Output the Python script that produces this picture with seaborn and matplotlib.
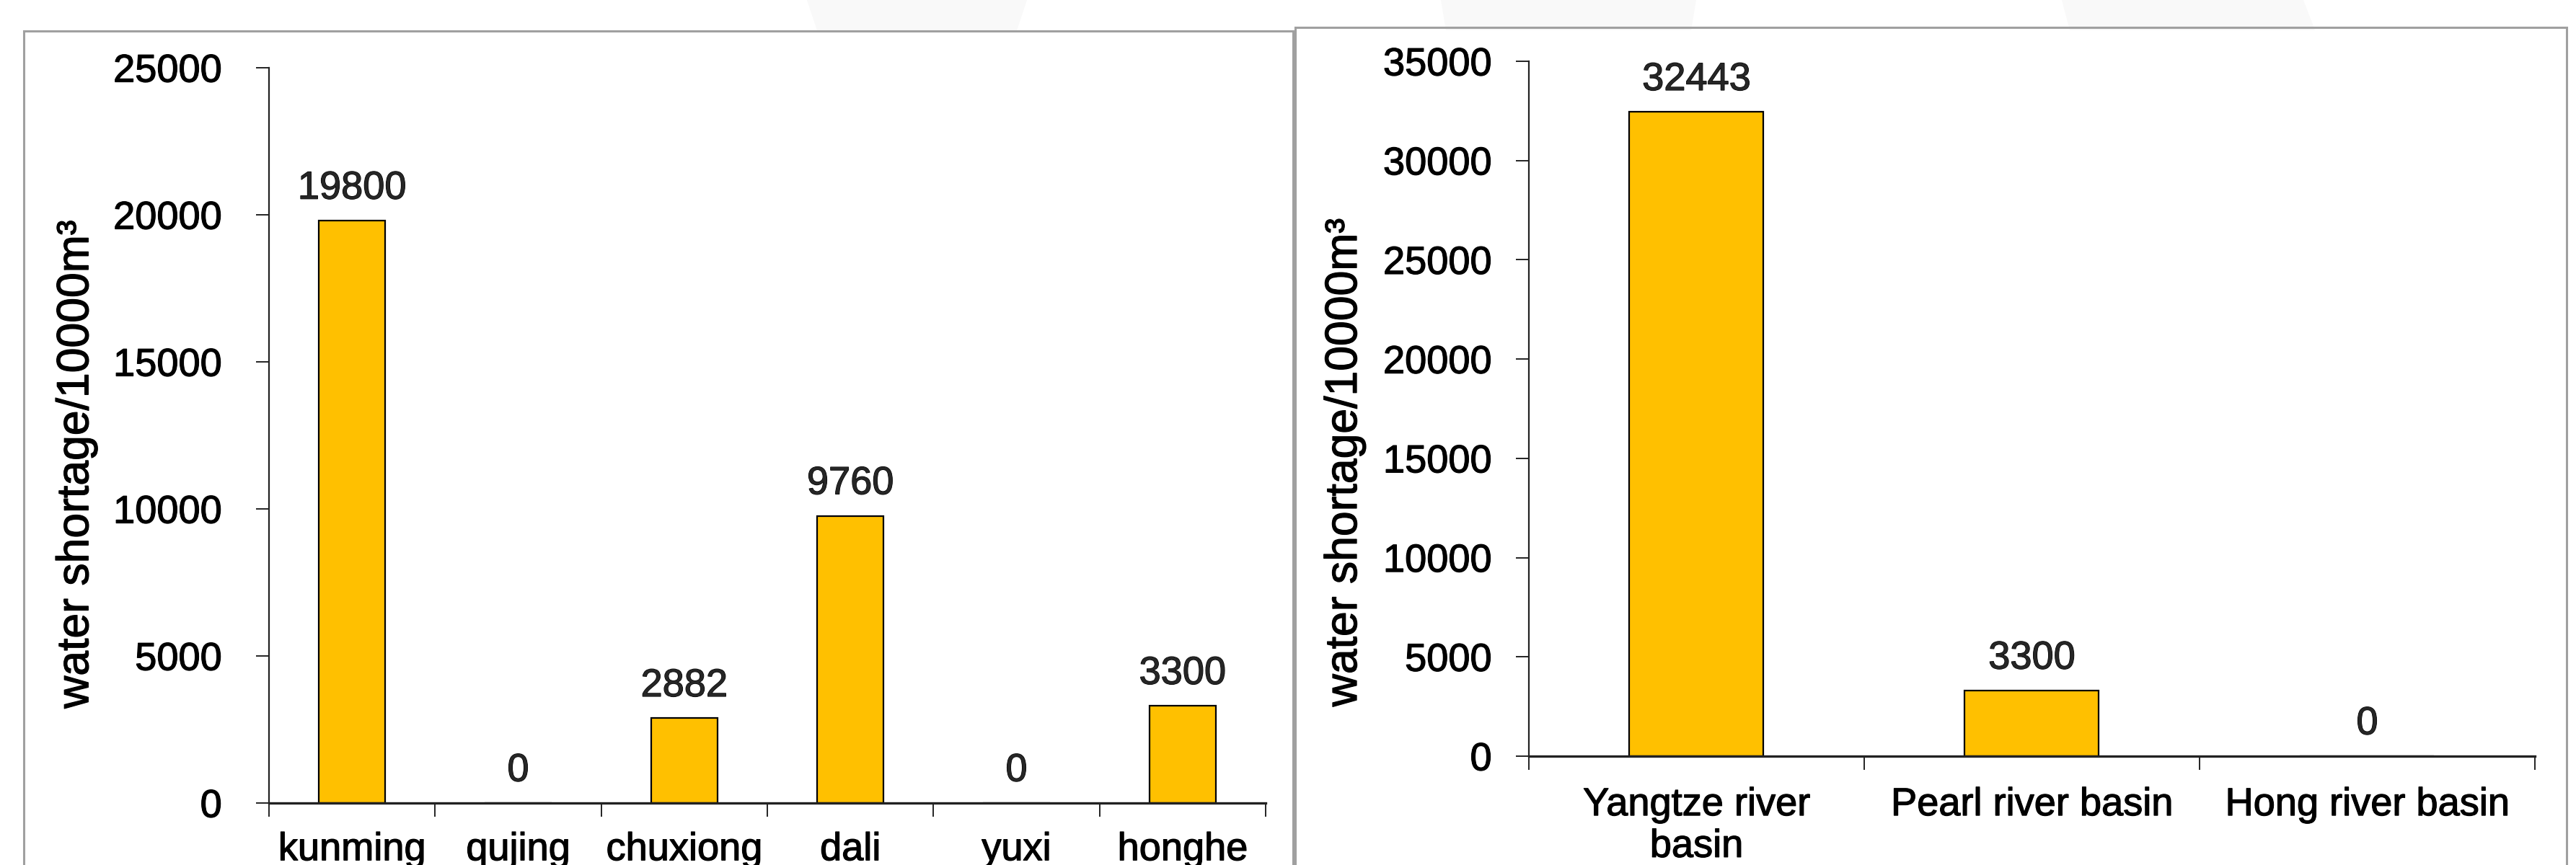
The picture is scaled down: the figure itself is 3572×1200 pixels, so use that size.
import matplotlib
matplotlib.use("Agg")
import matplotlib.pyplot as plt
import matplotlib.patches as mpatches
import matplotlib.patheffects as pe
import seaborn as sns
import pandas as pd

# ---- data ----
left_categories = ["kunming", "qujing", "chuxiong", "dali", "yuxi", "honghe"]
left_values = [19800, 0, 2882, 9760, 0, 3300]
right_categories = ["Yangtze river\nbasin", "Pearl river basin", "Hong river basin"]
right_values = [32443, 3300, 0]
left_yticks = [0, 5000, 10000, 15000, 20000, 25000]
right_yticks = [0, 5000, 10000, 15000, 20000, 25000, 30000, 35000]
ylabel_text = "water shortage/10000m³"

sns.set_theme(style="white")
plt.rcParams["font.family"] = ["Liberation Sans", "DejaVu Sans"]

W, H = 3573, 1200
fig = plt.figure(figsize=(W / 100, H / 100), dpi=100)
fig.patch.set_facecolor("white")

# faint watermark shapes
for xs in ([1119, 1424, 1410, 1133], [1998, 2352, 2345, 2005], [2859, 3194, 3210, 2870]):
    poly = mpatches.Polygon([(xs[0] / W, 1.0), (xs[1] / W, 1.0), (xs[2] / W, 0.965), (xs[3] / W, 0.965)],
                            closed=True, transform=fig.transFigure, facecolor="#f9f9f9",
                            edgecolor="none", zorder=0)
    fig.add_artist(poly)

# panel borders
fig.add_artist(mpatches.Rectangle((33 / W, -0.1), (1793 - 33) / W, 1.1 - 43 / H,
                                  transform=fig.transFigure, fill=False,
                                  edgecolor="#a0a0a0", linewidth=2.2, zorder=1))
fig.add_artist(mpatches.Rectangle((1796 / W, -0.1), (3559 - 1796) / W, 1.1 - 38 / H,
                                  transform=fig.transFigure, fill=False,
                                  edgecolor="#a0a0a0", linewidth=2.2, zorder=1))

ax1 = fig.add_axes([373 / W, 1 - 1114 / H, (1755 - 373) / W, (1114 - 94) / H])
ax2 = fig.add_axes([2120 / W, 1 - 1049 / H, (3515 - 2120) / W, (1049 - 85) / H])

FS = 39
bar_color = "#FFC000"
heavy = [pe.withStroke(linewidth=0.9, foreground="black")]


def draw(ax, cats, vals, yticks, ytop, ypad, xpad, lab_x, lab_y):
    df = pd.DataFrame({"cat": cats, "val": vals})
    sns.barplot(data=df, x="cat", y="val", ax=ax, color=bar_color, saturation=1,
                edgecolor="black", linewidth=1.6, width=0.4)
    ax.set_facecolor("none")
    n = len(cats)
    ax.set_xlim(-0.5, n - 0.5)
    ax.set_ylim(0, ytop)
    ax.set_yticks(yticks)
    ax.set_yticklabels([str(v) for v in yticks])
    # boundaries as major ticks, labels on minor ticks
    ax.set_xticks([i - 0.5 for i in range(n + 1)])
    ax.set_xticklabels([""] * (n + 1))
    ax.set_xticks(list(range(n)), minor=True)
    ax.set_xticklabels(cats, minor=True)
    ax.tick_params(axis="x", which="major", direction="out", length=14, width=1.4,
                   color="#222222", bottom=True)
    ax.tick_params(axis="x", which="minor", length=0, pad=xpad, labelsize=FS, bottom=True)
    ax.tick_params(axis="y", direction="out", length=13, width=1.4, color="#222222",
                   left=True, pad=ypad, labelsize=FS)
    for lbl in ax.get_xticklabels(minor=True):
        lbl.set_linespacing(1.2)
    for s in ["top", "right"]:
        ax.spines[s].set_visible(False)
    for s in ["left", "bottom"]:
        ax.spines[s].set_color("#222222")
        ax.spines[s].set_linewidth(1.6)
    ax.spines["bottom"].set_linewidth(2.4)
    ax.set_xlabel("")
    ax.set_ylabel(ylabel_text, fontsize=45)
    ax.yaxis.set_label_coords(lab_x, lab_y)
    for c in ax.containers:
        ax.bar_label(c, labels=[f"{int(v)}" for v in vals], padding=14, fontsize=FS)
    for t in ax.texts:
        t.set_clip_on(False)
        t.set_path_effects(heavy)
    for t in ax.get_xticklabels(minor=True) + ax.get_yticklabels() + [ax.yaxis.label]:
        t.set_path_effects(heavy)
        t.set_color("black")


draw(ax1, left_categories, left_values, left_yticks, 25000, 34, 29, -0.172, 0.461)
draw(ax2, right_categories, right_values, right_yticks, 35000, 24, 31, -0.162, 0.423)

fig.savefig("out.png", dpi=100, facecolor="white")
